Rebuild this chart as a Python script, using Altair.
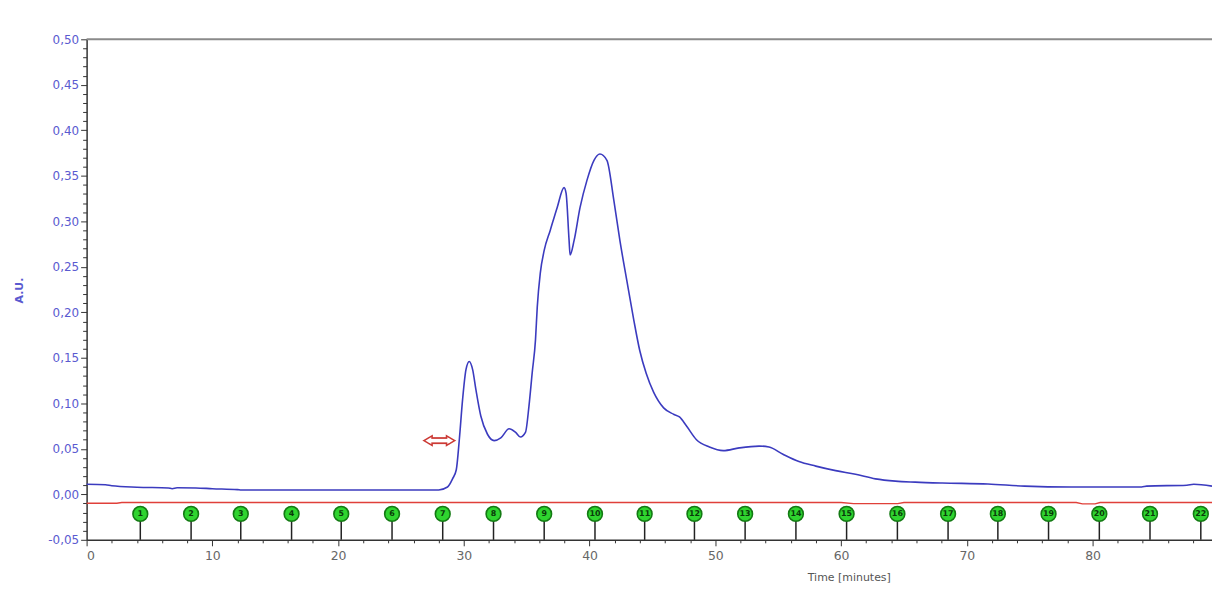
import altair as alt
import pandas as pd

# ---- data ----
TIME = [0, 1.5, 2.0, 4.0, 6.5, 6.8, 7.2, 8.7, 10.0, 12.0, 12.3, 20.0, 28.0, 28.7, 29.1, 29.4,
        29.64, 29.9, 30.17, 30.43, 30.7, 30.96, 31.35, 31.88, 32.41, 32.94, 33.6, 34.12, 34.5,
        34.9, 35.18, 35.44, 35.7, 35.84, 36.08, 36.39, 36.87, 37.42, 37.97, 38.13, 38.37, 38.45,
        38.77, 39.24, 39.79, 40.35, 40.82, 41.38, 41.93, 42.41, 42.96, 43.51, 43.99, 44.5, 45.1,
        45.89, 46.68, 47.15, 47.71, 48.5, 49.53, 50.63, 51.9, 53.48, 54.27, 55.38, 56.65, 57.99,
        59.57, 61.15, 62.74, 64.32, 65.9, 68.04, 71.68, 74.6, 78.3, 83.9, 84.3, 87.5, 88.05, 89.5]
AU = [0.011, 0.0105, 0.0094, 0.0078, 0.007, 0.0062, 0.0072, 0.007, 0.0062, 0.0052, 0.0047, 0.0047,
      0.0048, 0.008, 0.017, 0.027, 0.060, 0.104, 0.137, 0.146, 0.137, 0.115, 0.086, 0.066, 0.059,
      0.062, 0.072, 0.068, 0.063, 0.068, 0.097, 0.134, 0.170, 0.206, 0.243, 0.268, 0.290, 0.315,
      0.337, 0.331, 0.279, 0.263, 0.279, 0.315, 0.345, 0.367, 0.374, 0.367, 0.323, 0.279, 0.235,
      0.192, 0.158, 0.133, 0.112, 0.095, 0.088, 0.085, 0.075, 0.060, 0.052, 0.048, 0.051, 0.053,
      0.052, 0.044, 0.036, 0.031, 0.026, 0.022, 0.017, 0.0145, 0.0134, 0.0124, 0.0113, 0.009,
      0.008, 0.008, 0.009, 0.010, 0.011, 0.009]

RED_TIME = [0, 2.4, 2.8, 60.0, 61.0, 64.5, 65.0, 78.7, 79.2, 80.2, 80.6, 89.5]
RED_AU = [-0.0098, -0.0098, -0.009, -0.009, -0.0102, -0.0102, -0.009, -0.009, -0.0105, -0.0105,
          -0.009, -0.009]

FRACTION_NO = list(range(1, 23))
FRACTION_TIME = [4.27, 8.31, 12.26, 16.30, 20.25, 24.29, 28.32, 32.36, 36.39, 40.43, 44.38,
                 48.34, 52.37, 56.41, 60.44, 64.48, 68.51, 72.47, 76.50, 80.54, 84.57, 88.61]
MARKER_AU = -0.0215

ARROW_TIME = [26.75, 29.35]
ARROW_AU = 0.059

X_DOMAIN = [0, 89.5]
Y_DOMAIN = [-0.05, 0.50]
Y_TICKS = [round(-0.05 + 0.01 * i, 2) for i in range(56)]
X_TICKS = list(range(0, 90, 2))

BLUE = "#3b3bbf"
RED = "#e0403a"
LABEL_BLUE = "#5a5ad0"

trace = pd.DataFrame({"t": TIME, "v": AU})
red = pd.DataFrame({"t": RED_TIME, "v": RED_AU})
fr = pd.DataFrame({"t": FRACTION_TIME, "n": [str(n) for n in FRACTION_NO],
                   "v": [MARKER_AU] * len(FRACTION_NO), "base": [Y_DOMAIN[0]] * len(FRACTION_NO)})

xs = alt.Scale(domain=X_DOMAIN, nice=False, zero=False)
ys = alt.Scale(domain=Y_DOMAIN, nice=False, zero=False)

x_axis = alt.Axis(
    values=X_TICKS, tickCount=500, grid=False, labelOverlap=False,
    labelExpr="datum.value % 10 == 0 ? format(datum.value, 'd') : ''",
    labelColor="#666666", labelFontSize=12.5, labelFont="DejaVu Sans", labelPadding=4,
    domainColor="#333333", domainWidth=1.5, tickColor="#333333",
    tickSize={"condition": {"test": "datum.value % 10 == 0", "value": 6}, "value": 3},
    title="Time [minutes]", titleColor="#555555", titleFontSize=11, titleFont="DejaVu Sans",
    titleFontWeight="normal", titleX=766, titleY=38, titleAlign="center", titleBaseline="middle",
)
y_axis = alt.Axis(
    values=Y_TICKS, tickCount=500, grid=False, labelOverlap=False,
    labelExpr="abs(round(datum.value*100)) % 5 == 0 ? replace(replace(format(datum.value, '.2f'), '.', ','), '\u2212', '-') : ''",
    labelColor=LABEL_BLUE, labelFontSize=12, labelFont="DejaVu Sans", labelPadding=2,
    domainColor="#333333", domainWidth=1.5, tickColor="#333333",
    tickSize={"condition": {"test": "abs(round(datum.value*100)) % 5 == 0", "value": 6}, "value": 4},
    title="A.U.", titleColor=LABEL_BLUE, titleFontSize=11, titleFont="DejaVu Sans",
    titleFontWeight="bold", titleX=-67, titleY=252, titleAlign="center", titleBaseline="middle",
    titleAngle=270,
)

top_line = alt.Chart(pd.DataFrame({"v": [Y_DOMAIN[1]]})).mark_rule(color="#8a8a8a", strokeWidth=2).encode(
    y=alt.Y("v:Q", scale=ys, axis=y_axis))

blue_line = alt.Chart(trace).mark_line(color=BLUE, strokeWidth=1.6, interpolate="monotone").encode(
    x=alt.X("t:Q", scale=xs, axis=x_axis), y=alt.Y("v:Q", scale=ys))

red_line = alt.Chart(red).mark_line(color=RED, strokeWidth=1.3).encode(
    x=alt.X("t:Q", scale=xs), y=alt.Y("v:Q", scale=ys))

stems = alt.Chart(fr).mark_rule(color="#222222", strokeWidth=1.5).encode(
    x=alt.X("t:Q", scale=xs), y=alt.Y("base:Q", scale=ys), y2="v:Q")

circles = alt.Chart(fr).mark_point(shape="circle", filled=True, size=220, fill="#2fd42f",
                                   stroke="#137a13", strokeWidth=1.6, opacity=1).encode(
    x=alt.X("t:Q", scale=xs), y=alt.Y("v:Q", scale=ys))

nums = alt.Chart(fr).mark_text(fontSize=8, font="DejaVu Sans", fontWeight="bold", color="#0a3a0a").encode(
    x=alt.X("t:Q", scale=xs), y=alt.Y("v:Q", scale=ys), text="n:N")

arrow_df = pd.DataFrame({"t0": [ARROW_TIME[0] + 0.45], "t1": [ARROW_TIME[1] - 0.45], "v": [ARROW_AU]})
arrow_heads = pd.DataFrame({"t": [ARROW_TIME[0] + 0.4, ARROW_TIME[1] - 0.4], "v": [ARROW_AU, ARROW_AU],
                            "s": ["triangle-left", "triangle-right"]})

arrow_body = alt.Chart(arrow_df).mark_rule(color="#cc3a35", strokeWidth=7).encode(
    x=alt.X("t0:Q", scale=xs), x2="t1:Q", y=alt.Y("v:Q", scale=ys))
arrow_tri = alt.Chart(arrow_heads).mark_point(filled=True, size=90, fill="#ffffff", stroke="#cc3a35",
                                              strokeWidth=1.6, opacity=1).encode(
    x=alt.X("t:Q", scale=xs), y=alt.Y("v:Q", scale=ys),
    shape=alt.Shape("s:N", scale=None, legend=None))
arrow_inner = alt.Chart(arrow_df).mark_rule(color="#ffffff", strokeWidth=3.5).encode(
    x=alt.X("t0:Q", scale=xs), x2="t1:Q", y=alt.Y("v:Q", scale=ys))

chart = alt.layer(
    top_line, red_line, blue_line, stems, circles, nums, arrow_body, arrow_tri, arrow_inner
).properties(
    width=1131, height=503,
    autosize=alt.AutoSizeParams(type="none"),
    padding={"left": 79, "top": 30, "right": 0, "bottom": 55},
    background="#ffffff",
).configure_view(stroke=None)

chart.save("out.html", embed_options={"renderer": "svg", "actions": False})
